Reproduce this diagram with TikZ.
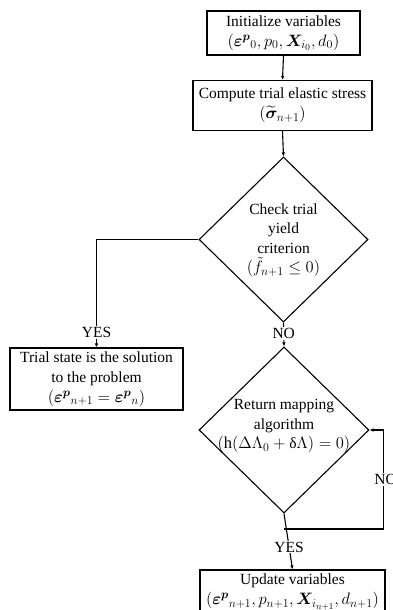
\documentclass[tikz,border=0pt]{standalone}
\usepackage{fix-cm}
\usepackage{amsmath}
\usepackage{bm}
\usepackage{fontspec}
\setmainfont{Liberation Serif}
\DeclareMathSizes{15.5}{16.5}{12}{9}
\usetikzlibrary{arrows.meta,shapes.geometric}
\begin{document}
\begin{tikzpicture}[x=1pt,y=-1pt,
  box/.style={draw, line width=1.1pt, rectangle, align=center, inner sep=1pt, font=\fontsize{15.5}{20}\selectfont},
  dia/.style={draw, line width=1.1pt, diamond, inner sep=0pt},
  txt/.style={align=center, inner sep=0pt, font=\fontsize{15.5}{19.5}\selectfont},
  lbl/.style={fill=white, inner sep=1pt, font=\fontsize{15.5}{19}\selectfont},
  arr/.style={line width=1.1pt, -{Latex[length=4pt,width=3.5pt]}},
  ln/.style={line width=1.1pt}]
\useasboundingbox (0,0) rectangle (393,610);

\node[box, minimum width=153pt, minimum height=44pt] (b1) at (283.5,33)
  {Initialize variables\\$({\bm{\varepsilon}^{\bm{p}}}_0, p_0, \bm{X}_{i_0}, d_0)$};
\node[box, minimum width=179pt, minimum height=50pt] (b2) at (282.5,105.5)
  {Compute trial elastic stress\\$(\widetilde{\bm{\sigma}}_{n+1})$};
\node[dia, minimum width=169pt, minimum height=165pt] (d1) at (283.5,239.5) {};
\node[txt] (d1t) at (283.5,240) {Check trial\\yield\\criterion\\$(\tilde{f}_{n+1} \le 0)$};
\node[box, minimum width=173pt, minimum height=62pt] (b3) at (96.5,379)
  {Trial state is the solution\\to the problem\\$({\bm{\varepsilon}^{\bm{p}}}_{n+1} = {\bm{\varepsilon}^{\bm{p}}}_n)$};
\node[dia, minimum width=170pt, minimum height=166pt] (d2) at (284,430) {};
\node[txt] (d2t) at (284,426) {Return mapping\\algorithm\\$(\mathrm{h}(\Delta\Lambda_0 + \text{δ}\Lambda) = 0)$};
\node[box, minimum width=185pt, minimum height=44pt] (b4) at (292.5,592)
  {Update variables\\$({\bm{\varepsilon}^{\bm{p}}}_{n+1}, p_{n+1}, \bm{X}_{i_{n+1}}, d_{n+1})$};

\coordinate (j) at (284,529);
\coordinate (r) at (383.5,529);

\draw[arr] (b1.south) -- (b2.north);
\draw[arr] (b2.south) -- (d1.north);
\draw[arr] (d1.west) -| (b3.north) node[pos=0.93, lbl] {YES};
\draw[arr] (d1.south) -- (d2.north) node[pos=0.45, lbl] {NO};
\draw[arr] (d2.south) -- (b4.north) node[pos=0.6, lbl] {YES};
\draw[arr] (j) -- (r) |- (d2.east) node[pos=0.25, lbl, xshift=2pt] {NO};
\end{tikzpicture}
\end{document}
